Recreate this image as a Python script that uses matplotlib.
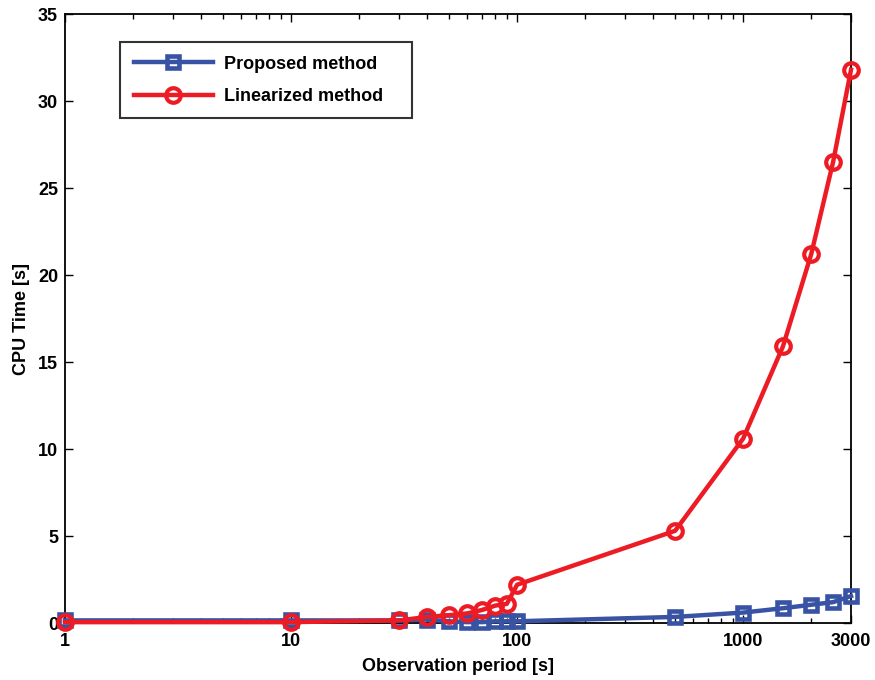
import matplotlib
matplotlib.use("Agg")
import matplotlib.pyplot as plt
from matplotlib.ticker import FixedLocator, FixedFormatter, LogLocator, NullFormatter

periods = [1, 10, 30, 40, 50, 60, 70, 80, 90, 100, 500, 1000, 1500, 2000, 2500, 3000]
proposed = [0.15, 0.15, 0.15, 0.2, 0.1, 0.05, 0.05, 0.1, 0.1, 0.1, 0.35, 0.6, 0.85, 1.05, 1.2, 1.55]
linearized = [0.05, 0.05, 0.15, 0.35, 0.45, 0.55, 0.75, 1.0, 1.1, 2.2, 5.3, 10.6, 15.9, 21.2, 26.5, 31.8]
xticks = [1, 10, 100, 1000, 3000]
xticklabels = ["1", "10", "100", "1000", "3000"]
yticks = [0, 5, 10, 15, 20, 25, 30, 35]

plt.rcParams['font.family'] = ['Liberation Sans', 'DejaVu Sans']
plt.rcParams['font.weight'] = 'bold'

fig = plt.figure(figsize=(8.75, 6.8), dpi=100)
ax = fig.add_axes([0.0743, 0.0838, 0.8983, 0.8956])

blue = '#3953A4'
red = '#ED1C24'
ax.plot(periods, proposed, '-s', color=blue, lw=3.2, ms=8.5, mfc='none', mec=blue, mew=3.3,
        label='Proposed method', clip_on=False, zorder=3)
ax.plot(periods, linearized, '-o', color=red, lw=3.2, ms=10.5, mfc='none', mec=red, mew=3,
        label='Linearized method', clip_on=False, zorder=4)

ax.set_xscale('log')
ax.set_xlim(1, 3000)
ax.set_ylim(0, 35)
ax.xaxis.set_major_locator(FixedLocator(xticks))
ax.xaxis.set_major_formatter(FixedFormatter(xticklabels))
ax.xaxis.set_minor_locator(LogLocator(base=10, subs=range(2, 10), numticks=20))
ax.xaxis.set_minor_formatter(NullFormatter())
ax.set_yticks(yticks)
ax.tick_params(axis='both', which='both', direction='in', top=True, right=True, labelsize=13)
ax.tick_params(which='major', length=6, width=1)
ax.tick_params(which='minor', length=3.5, width=1)
ax.tick_params(axis='x', pad=7)
ax.tick_params(axis='y', pad=5)
for s in ax.spines.values():
    s.set_linewidth(1.3)

ax.set_xlabel('Observation period [s]', fontsize=13, fontweight='bold', labelpad=6)
ax.set_ylabel('CPU Time [s]', fontsize=13, fontweight='bold', labelpad=6)

leg = ax.legend(loc='upper left', bbox_to_anchor=(0.070, 0.954, 0.3715, 0.0), mode='expand',
                fontsize=13, frameon=True,
                fancybox=False, edgecolor='black', handlelength=4.4, borderpad=0.75,
                labelspacing=0.85, handletextpad=0.6, borderaxespad=0)
leg.get_frame().set_linewidth(1.5)

fig.savefig('out.png', dpi=100)
